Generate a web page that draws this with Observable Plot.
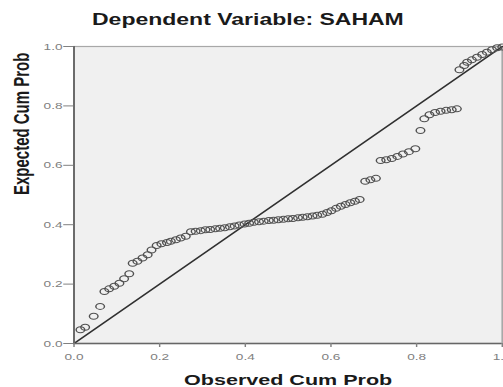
<!DOCTYPE html>
<html>
<head>
<meta charset="utf-8">
<script src="https://cdn.jsdelivr.net/npm/d3@7"></script>
<script src="https://cdn.jsdelivr.net/npm/@observablehq/plot@0.6"></script>
<style>
  html, body { margin: 0; padding: 0; background: #ffffff; }
  body { width: 503px; height: 387px; overflow: hidden; }
  #wrap { width: 350px; transform: scaleX(1.4371); transform-origin: 0 0; font-family: "Liberation Sans", Arial, sans-serif; }
  #title { height: 24px; padding-top: 12px; text-align: center; font-size: 16px; line-height: 16px; font-weight: bold; color: #1a1a1a; padding-right: 5px; }
</style>
</head>
<body>
<div id="wrap">
  <div id="title">Dependent Variable: SAHAM</div>
  <div id="chart"></div>
</div>
<script>
const titleText = "Dependent Variable: SAHAM";
const xLabel = "Observed Cum Prob";
const yLabel = "Expected Cum Prob";
const xTicks = [0, 0.2, 0.4, 0.6, 0.8, 1.0];
const yTicks = [0, 0.2, 0.4, 0.6, 0.8, 1.0];
const refLine = [0, 1];

const obsCumProb = [
  0.015,0.026,0.046,0.061,0.071,0.082,0.094,0.106,0.117,0.129,0.137,0.148,0.160,0.172,0.181,0.193,0.204,0.217,0.226,0.238,0.249,0.261,
  0.273,0.284,0.296,0.307,0.318,0.330,0.341,0.352,0.364,0.375,0.386,0.398,0.409,0.420,0.432,0.443,0.455,0.466,0.477,0.489,0.500,0.511,0.523,0.534,0.545,0.557,0.568,0.580,
  0.591,0.601,0.612,0.623,0.634,0.645,0.656,0.667,
  0.680,0.692,0.705,
  0.716,0.729,0.742,0.755,0.768,0.782,0.797,
  0.809,
  0.818,0.830,0.843,0.856,0.869,0.882,0.894,
  0.900,0.911,0.918,0.929,0.941,0.953,0.964,0.976,0.988,1.000
];
const expCumProb = [
  0.046,0.055,0.092,0.125,0.175,0.184,0.193,0.203,0.218,0.235,0.270,0.277,0.288,0.299,0.315,0.330,0.336,0.340,0.344,0.349,0.355,0.361,
  0.376,0.378,0.380,0.383,0.384,0.386,0.388,0.390,0.393,0.396,0.399,0.402,0.405,0.408,0.410,0.412,0.414,0.415,0.417,0.418,0.420,0.421,0.423,0.425,0.427,0.429,0.432,0.435,
  0.441,0.447,0.455,0.462,0.468,0.474,0.479,0.485,
  0.546,0.551,0.556,
  0.616,0.619,0.623,0.630,0.638,0.646,0.656,
  0.717,
  0.757,0.770,0.778,0.782,0.785,0.787,0.790,
  0.922,0.936,0.947,0.955,0.964,0.973,0.981,0.989,0.996,0.998
];

const points = obsCumProb.map((x, i) => ({x, y: expCumProb[i]}));
const fmt = d3.format(".1f");

const chart = Plot.plot({
  width: 350,
  height: 351,
  marginLeft: 51,
  marginRight: 1,
  marginTop: 10,
  marginBottom: 44,
  x: {domain: [0, 1]},
  y: {domain: [0, 1]},
  style: {fontFamily: '"Liberation Sans", Arial, sans-serif', background: "transparent", overflow: "visible"},
  marks: [
    Plot.frame({fill: "#f0f0f0", stroke: "#a8a8a8", strokeWidth: 1.2}),
    Plot.line(refLine, {x: d => d, y: d => d, stroke: "#303030", strokeWidth: 1.3}),
    Plot.dot(points, {x: "x", y: "y", r: 3, stroke: "#505050", strokeWidth: 1, fill: "none"}),
    Plot.ruleX([0], {stroke: "#666", strokeWidth: 1.3}),
    Plot.ruleY([0], {stroke: "#666", strokeWidth: 1.3}),
    Plot.axisX({ticks: xTicks, tickFormat: fmt, tickSize: 4, tickPadding: 6, fontSize: 9.5, color: "#808080", label: null}),
    Plot.axisY({ticks: yTicks, tickFormat: fmt, tickSize: 7, tickPadding: 1, fontSize: 9.5, color: "#808080", label: null}),
    Plot.text([xLabel], {text: d => d, frameAnchor: "bottom", dy: 37, lineAnchor: "middle", fontSize: 15, fontWeight: "bold", fill: "#1a1a1a"}),
    Plot.text([yLabel], {text: d => d, frameAnchor: "left", dx: -36, rotate: -90, lineAnchor: "middle", fontSize: 15, fontWeight: "bold", fill: "#1a1a1a"})
  ]
});
document.getElementById("chart").appendChild(chart);
</script>
</body>
</html>
